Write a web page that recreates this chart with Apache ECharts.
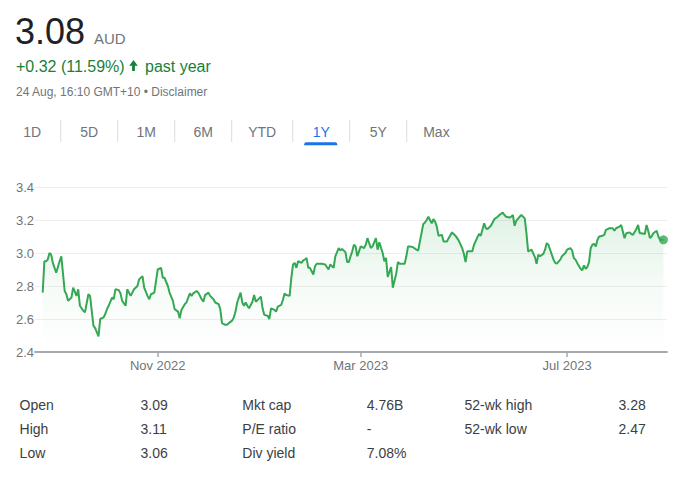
<!DOCTYPE html>
<html><head><meta charset="utf-8">
<script src="https://cdn.jsdelivr.net/npm/echarts@6/dist/echarts.min.js"></script>
<style>html,body{margin:0;padding:0;background:#fff}#c{width:682px;height:478px}</style>
</head><body><div id="c"></div>
<script>
// ---- data ----
const startDate = '2022-08-24';           // day 0 of the 1Y window
const dayOffsets = [
  1,2,3,4,5,6,7,9,11,12,14,15,16,18,19,21,22,23,25,26,28,29,31,32,33,34,35,37,38,39,40,42,43,44,46,47,48,50,51,53,54,55,57,58,
  60,61,63,64,65,67,68,69,71,72,73,75,76,78,79,81,82,83,85,86,88,89,90,92,93,95,96,97,99,100,102,103,105,106,107,109,110,111,113,114,115,116,118,119,120,121,
  122,123,125,126,127,129,130,131,132,134,135,136,138,139,140,142,143,144,145,147,148,149,150,151,152,154,155,156,157,158,159,161,162,163,165,166,168,169,170,171,173,174,176,177,178,180,181,182,183,184,185,
  186,187,188,189,191,192,193,195,196,198,199,200,202,203,204,205,207,208,210,211,212,214,215,216,217,218,220,222,223,224,226,227,228,229,230,231,232,233,234,235,237,238,240,241,243,244,245,247,
  249,250,251,252,253,255,256,258,259,260,262,263,264,266,267,268,270,271,273,274,275,277,278,279,280,281,283,284,286,287,288,289,290,292,293,294,295,297,298,299,300,301,303,304,305,307,308,
  310,311,313,314,315,316,317,319,320,321,322,323,324,325,326,327,328,329,330,332,333,334,335,336,338,339,340,342,343,344,345,346,348,349,350,352,353,354,355,357,358,359,360,361,362,364,365,366,368
];
const prices = [
  2.76,2.95,2.95,2.96,3.00,2.99,2.94,2.88,2.95,2.98,2.77,2.75,2.71,2.73,2.79,2.74,2.78,2.68,2.65,2.64,2.75,2.74,2.56,2.545,2.52,2.495,2.60,2.61,2.63,2.66,2.68,2.73,2.72,2.78,2.775,2.755,2.71,2.68,2.78,2.74,2.76,2.78,2.80,2.84,
  2.86,2.79,2.74,2.72,2.75,2.76,2.83,2.90,2.91,2.85,2.85,2.80,2.76,2.71,2.66,2.645,2.605,2.655,2.69,2.70,2.755,2.74,2.755,2.77,2.76,2.72,2.705,2.745,2.76,2.74,2.72,2.70,2.69,2.66,2.575,2.565,2.565,2.575,2.59,2.61,2.645,2.70,2.76,2.70,2.68,2.70,
  2.68,2.665,2.705,2.745,2.705,2.725,2.735,2.665,2.625,2.62,2.60,2.665,2.655,2.645,2.675,2.685,2.715,2.755,2.745,2.74,2.85,2.93,2.94,2.91,2.95,2.94,2.955,2.96,2.97,2.91,2.91,2.87,2.92,2.935,2.935,2.935,2.93,2.915,2.90,2.93,2.91,2.98,3.03,3.015,3.025,3.005,2.945,2.945,2.98,3.01,3.05,
  3.04,2.98,3.01,3.04,3.03,3.05,3.09,3.03,3.04,3.09,3.02,3.065,3.00,2.95,2.97,2.855,2.915,2.79,2.875,2.945,2.935,2.935,2.935,2.98,3.04,3.04,3.035,3.02,3.015,3.07,3.175,3.185,3.20,3.22,3.20,3.18,3.205,3.19,3.16,3.105,3.11,3.07,3.07,3.09,3.125,3.115,3.105,3.075,
  3.03,2.995,2.945,3.01,3.01,3.01,3.05,3.095,3.115,3.105,3.18,3.15,3.145,3.165,3.185,3.205,3.22,3.23,3.245,3.23,3.22,3.215,3.22,3.23,3.165,3.195,3.22,3.23,3.21,3.12,3.01,3.015,3.02,2.975,2.935,2.99,2.98,2.995,3.02,3.06,3.05,3.02,2.96,2.94,2.935,2.96,2.98,
  3.00,3.02,3.03,3.015,2.97,2.96,2.94,2.905,2.895,2.925,2.905,2.915,2.945,3.03,3.05,3.055,3.04,3.08,3.10,3.105,3.11,3.14,3.145,3.15,3.15,3.135,3.15,3.16,3.17,3.13,3.09,3.12,3.125,3.115,3.11,3.145,3.17,3.12,3.12,3.115,3.17,3.135,3.09,3.10,3.12,3.135,3.10,3.08,3.08
];
const tickDates = ['2022-11-01', '2023-03-01', '2023-07-01'];
const tabLabels = ['1D', '5D', '1M', '6M', 'YTD', '1Y', '5Y', 'Max'];
const activeTab = '1Y';
const statLabels = [['Open','High','Low'], ['Mkt cap','P/E ratio','Div yield'], ['52-wk high','52-wk low']];
const statValues = [['3.09','3.11','3.06'], ['4.76B','-','7.08%'], ['3.28','2.47']];
const header = { price: '3.08', currency: 'AUD', change: '+0.32 (11.59%)', period: 'past year', stamp: '24 Aug, 16:10 GMT+10 \u2022 Disclaimer' };

// ---- build ----
const DAY = 86400000;
const base = Date.parse(startDate + 'T00:00:00Z');
const series = dayOffsets.map((d, i) => [base + d * DAY, prices[i]]);
const last = series[series.length - 1];
const tickTs = tickDates.map(s => Date.parse(s + 'T00:00:00Z'));
const MONTHS = ['Jan','Feb','Mar','Apr','May','Jun','Jul','Aug','Sep','Oct','Nov','Dec'];
const FONT = '"Liberation Sans", Arial, sans-serif';
const GREEN = '#34a853';
const TEXT_GREEN = '#188038';
const GREY = '#70757a';

const graphic = [];
function txt(text, x, y, size, color, align) {
  graphic.push({ type: 'text', x: x, y: y, silent: true,
    style: { text: text, fill: color, font: size + 'px ' + FONT, align: align || 'left', verticalAlign: 'middle' } });
}
// header
txt(header.price, 15, 31, 36, '#202124');
txt(header.currency, 94, 38, 15, GREY);
txt(header.change, 16, 66, 16, TEXT_GREEN);
graphic.push({ type: 'polygon', silent: true,
  shape: { points: [[133.5, 60], [137.8, 65.8], [134.9, 65.8], [134.9, 71], [132.1, 71], [132.1, 65.8], [129.2, 65.8]] },
  style: { fill: TEXT_GREEN } });
txt(header.period, 145, 66, 16, TEXT_GREEN);
txt(header.stamp, 16, 92, 12, GREY);
// tabs: each tab is at least 57px wide, wider labels get 16.5px padding on each side
let tabLeft = 3.7;
tabLabels.forEach((t, i) => {
  const font = '14px ' + FONT;
  const w = echarts.format.getTextRect ? echarts.format.getTextRect(t, font).width : t.length * 8;
  const tabW = Math.max(57, w + 33);
  const cx = tabLeft + tabW / 2;
  txt(t, cx, 132, 14, t === activeTab ? '#1a73e8' : GREY, 'center');
  if (i > 0) {
    graphic.push({ type: 'line', silent: true, shape: { x1: tabLeft, y1: 120, x2: tabLeft, y2: 142 }, style: { stroke: '#dadce0', lineWidth: 1 } });
  }
  if (t === activeTab) {
    graphic.push({ type: 'rect', silent: true, shape: { x: cx - 17, y: 142.3, width: 33, height: 3, r: [2, 2, 0, 0] }, style: { fill: '#1a73e8' } });
  }
  tabLeft += tabW;
});
// stats table
const colLabelX = [19.6, 242.3, 464.5], colValueX = [140.5, 366.7, 618.5], rowY = [405, 429.3, 453.3];
statLabels.forEach((col, c) => col.forEach((lab, r) => {
  txt(lab, colLabelX[c], rowY[r], 14, '#3c4043');
  txt(statValues[c][r], colValueX[c], rowY[r], 14, '#3c4043');
}));

const option = {
  animation: false,
  backgroundColor: '#fff',
  textStyle: { fontFamily: FONT },
  grid: { left: 35, right: 15, top: 187, bottom: 126, containLabel: false },
  xAxis: {
    type: 'value',
    min: base - 3.55 * DAY,
    max: base + 370.1 * DAY,
    splitLine: { show: false },
    axisLine: { show: true, lineStyle: { color: '#a6a9ad', width: 2 } },
    axisTick: { show: true, customValues: tickTs, length: 5, lineStyle: { color: '#a6a9ad', width: 1.5 } },
    axisLabel: {
      customValues: tickTs, margin: 7, color: GREY, fontSize: 13, fontFamily: FONT,
      formatter: v => { const d = new Date(v); return MONTHS[d.getUTCMonth()] + ' ' + d.getUTCFullYear(); }
    }
  },
  yAxis: {
    type: 'value', min: 2.4, max: 3.4, interval: 0.2,
    axisLine: { show: false }, axisTick: { show: false },
    splitLine: { lineStyle: { color: '#eeeeee', width: 1 } },
    axisLabel: { align: 'left', margin: 19, color: GREY, fontSize: 13, fontFamily: FONT,
      formatter: v => Number(v).toFixed(1) }
  },
  series: [
    { type: 'line', data: series, symbol: 'none', showSymbol: false,
      lineStyle: { color: GREEN, width: 2 },
      areaStyle: { color: { type: 'linear', x: 0, y: 0, x2: 0, y2: 1, colorStops: [
        { offset: 0, color: 'rgba(52,168,83,0.22)' },
        { offset: 0.5, color: 'rgba(52,168,83,0.07)' },
        { offset: 1, color: 'rgba(52,168,83,0)' } ] } },
      z: 2 },
    { type: 'scatter', data: [last], symbolSize: 9, itemStyle: { color: GREEN }, z: 3 }
  ],
  graphic: graphic
};
const chart = echarts.init(document.getElementById('c'), null, { renderer: 'svg' });
chart.setOption(option);
</script>
</body></html>
